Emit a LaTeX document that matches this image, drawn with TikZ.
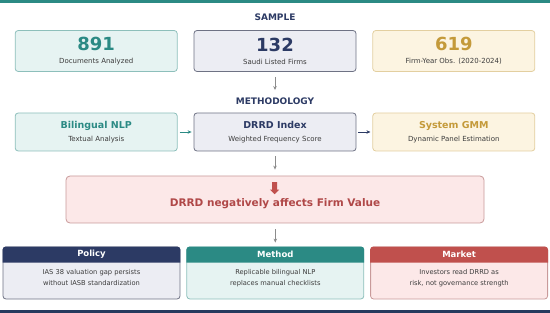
\documentclass[tikz,border=0pt]{standalone}
\usepackage{fontspec}
\setmainfont{DejaVu Sans}
\usepackage{xcolor}
\usepackage{tikz}
\usetikzlibrary{arrows.meta, positioning, shapes.arrows}

\definecolor{tealD}{HTML}{2B8A84}
\definecolor{tealL}{HTML}{E6F3F2}
\definecolor{tealB}{HTML}{8DBFBB}
\definecolor{navyD}{HTML}{2C3A64}
\definecolor{navyL}{HTML}{ECEDF3}
\definecolor{navyB}{HTML}{6E7284}
\definecolor{goldD}{HTML}{C49A3A}
\definecolor{goldL}{HTML}{FCF4E1}
\definecolor{goldB}{HTML}{E3CFA0}
\definecolor{redD}{HTML}{C0504D}
\definecolor{redT}{HTML}{B04848}
\definecolor{redL}{HTML}{FCE8E8}
\definecolor{redB}{HTML}{C89A9A}
\definecolor{barNavy}{HTML}{263A5E}
\definecolor{txtGray}{HTML}{3C3C3C}

\newcommand{\statnum}[2]{{\color{#1}\fontsize{18}{18}\selectfont\bfseries #2}}
\newcommand{\methttl}[2]{{\color{#1}\fontsize{9.5}{11}\selectfont\bfseries #2}}

\begin{document}
\begin{tikzpicture}[x=1pt, y=-1pt,
    statbox/.style={rectangle, draw=#1B, fill=#1L, line width=0.8pt, rounded corners=3pt,
                  minimum width=162pt, minimum height=41pt, align=center,
                  font=\fontsize{7}{9}\selectfont, text=txtGray},
    methbox/.style={statbox=#1, minimum height=38pt},
    sect/.style={font=\fontsize{9}{11}\selectfont\bfseries, text=navyD},
    arr/.style={-{Stealth[length=4pt, width=3.5pt]}, line width=0.8pt, draw=black!45},
    finding/.style={rectangle, draw=redB, fill=redL, line width=0.8pt, rounded corners=4pt,
                  minimum width=418pt, minimum height=47pt},
    panel/.style={rectangle, draw=#1B, fill=#1L, line width=0.8pt, rounded corners=3pt,
                  minimum width=177pt, minimum height=52pt},
    headtxt/.style={font=\fontsize{8.5}{10}\selectfont\bfseries, text=white},
    paneltxt/.style={font=\fontsize{6.7}{11}\selectfont, text=txtGray, align=center},
]
\useasboundingbox (0,0) rectangle (550,313);
\fill[tealD] (0,0) rectangle (550,3);
\fill[barNavy] (0,309.5) rectangle (550,313);

% sample row
\node[sect] (sample) at (275,17) {SAMPLE};
\node[statbox=navy] (firms) at (275,51) {\statnum{navyD}{132}\\[4pt] Saudi Listed Firms};
\node[statbox=teal, left=16pt of firms] (docs) {\statnum{tealD}{891}\\[4pt] Documents Analyzed};
\node[statbox=gold, right=16pt of firms] (obs) {\statnum{goldD}{619}\\[4pt] Firm-Year Obs. (2020-2024)};

% methodology row
\node[sect] (method) at (275,101) {METHODOLOGY};
\node[methbox=navy] (drrd) at (275,132) {\methttl{navyD}{DRRD Index}\\[4pt] Weighted Frequency Score};
\node[methbox=teal, left=16pt of drrd] (nlp) {\methttl{tealD}{Bilingual NLP}\\[4pt] Textual Analysis};
\node[methbox=gold, right=16pt of drrd] (gmm) {\methttl{goldD}{System GMM}\\[4pt] Dynamic Panel Estimation};

\draw[arr] (firms) -- (method) [shorten <=5pt, shorten >=4pt];
\draw[arr, draw=tealD, shorten <=2pt, shorten >=2pt] (nlp) -- (drrd);
\draw[arr, draw=navyD, shorten <=2pt, shorten >=2pt] (drrd) -- (gmm);

% main finding
\node[finding] (find) at (275,199.5) {};
\node[single arrow, fill=redD, draw=none, rotate=-90, minimum height=12pt, inner sep=2.3pt,
      single arrow head extend=2.2pt] (findarr) at ([xshift=-0.5pt, yshift=12.5pt]find.center) {};
\node[font=\fontsize{10.5}{12}\selectfont\bfseries, text=redT] (findlbl)
      at ([yshift=-4pt]find.center) {DRRD negatively affects Firm Value};

\draw[arr, shorten <=5pt, shorten >=6pt] (drrd) -- (find);

% implications
\node[panel=navy] (pol) at (91.5,273) {};
\node[panel=teal, right=6pt of pol] (met) {};
\node[panel=red, right=6pt of met] (mkt) {};
\foreach \p/\c in {pol/navyD, met/tealD, mkt/redD}
    \fill[\c] ([yshift=-16pt]\p.north west) [rounded corners=3pt] -- (\p.north west)
        -- (\p.north east) [sharp corners] -- ([yshift=-16pt]\p.north east) -- cycle;

\node[headtxt] (polh) at ([yshift=-8pt]pol.north) {Policy};
\node[headtxt] (meth) at ([yshift=-8pt]met.north) {Method};
\node[headtxt] (mkth) at ([yshift=-8pt]mkt.north) {Market};
\node[paneltxt] (polt) at ([yshift=-5pt]pol.center) {IAS 38 valuation gap persists\\without IASB standardization};
\node[paneltxt] (mett) at ([yshift=-5pt]met.center) {Replicable bilingual NLP\\replaces manual checklists};
\node[paneltxt] (mktt) at ([yshift=-5pt]mkt.center) {Investors read DRRD as\\risk, not governance strength};

\draw[arr, shorten <=6pt, shorten >=4pt] (find.south -| met.north) -- (met);

\end{tikzpicture}
\end{document}
